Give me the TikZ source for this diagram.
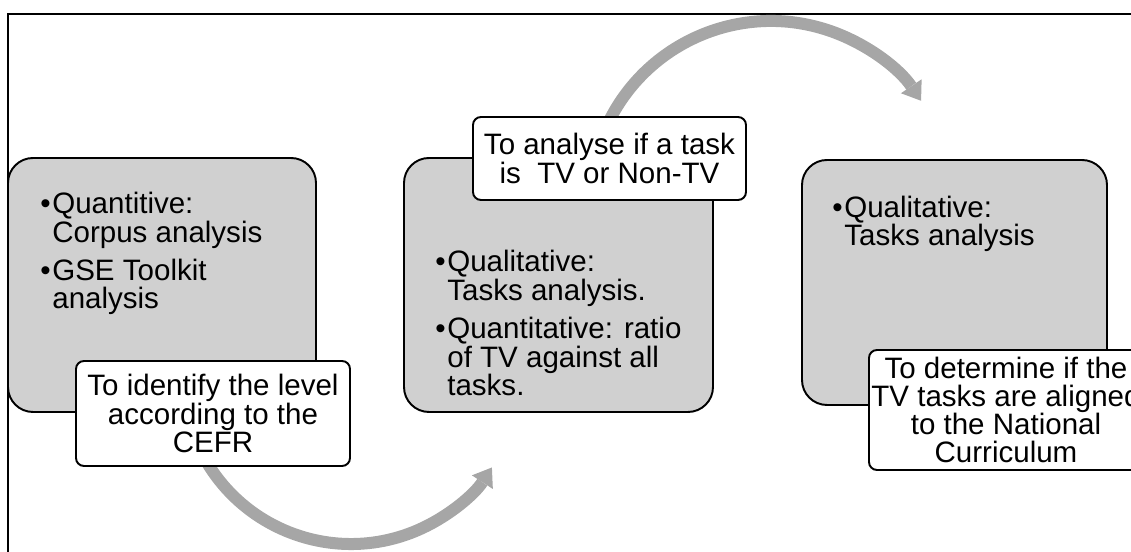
\documentclass[tikz,border=0pt]{standalone}
\usepackage{fontspec}
\setmainfont{Liberation Sans}
\usetikzlibrary{arrows.meta}

\definecolor{boxgray}{HTML}{D0D0D0}
\definecolor{arcgray}{HTML}{A6A6A6}

\newcommand{\bul}{\makebox[0.24cm][l]{\textbullet}}
\newcommand{\cont}{\hspace*{0.24cm}}

\begin{document}
\begin{tikzpicture}[
		font=\fontsize{16.8}{16.44}\selectfont,
		box/.style={draw, line width=1.1pt, fill=boxgray, rounded corners=0.5cm, inner sep=0pt},
		aim/.style={draw, line width=1.1pt, fill=white, rounded corners=0.16cm, align=center, inner sep=0pt},
		pts/.style={align=left, inner sep=0pt, anchor=base west},
		flow/.style={draw=arcgray, line width=0.24cm, -{Triangle[width=0.5cm, length=0.35cm, line width=0pt]}}
	]
		\useasboundingbox (0,0) rectangle (22.62,11.04);
		\clip (0,0) rectangle (22.62,11.04);
		\draw[line width=0.85pt] (0.16,-1) rectangle (24,10.76);

		% curved arrows, starting under the labels
		\coordinate (S1) at ({7.02+3.36*cos(205)},{3.52+3.36*sin(205)});
		\coordinate (S2) at ({15.42+3.62*cos(160)},{7.0+3.62*sin(160)});
		\draw[flow] (S1) arc[start angle=205, end angle=327, radius=3.36];
		\draw[flow] (S2) arc[start angle=160, end angle=34, radius=3.62];

		% the three steps
		\node[box, minimum width=6.16cm, minimum height=5.08cm] (B1) at (3.24,5.34) {};
		\node[box, minimum width=6.18cm, minimum height=5.08cm] (B2) at (11.17,5.34) {};
		\node[box, minimum width=6.1cm, minimum height=4.9cm] (B3) at (19.09,5.39) {};

		% anchored at the baseline of the last line
		\node[pts] (P1) at (0.8,4.86) {\bul Quantitive:\\\cont Corpus analysis\\[5pt]\bul GSE Toolkit\\\cont analysis};
		\node[pts] (P2) at (8.7,3.12) {\bul Qualitative:\\\cont Tasks analysis.\\[5pt]\bul Quantitative: ratio\\\cont of TV against all\\\cont tasks.};
		\node[pts] (P3) at (16.64,6.12) {\bul Qualitative:\\\cont Tasks analysis};

		% aims
		\node[aim, minimum width=5.48cm, minimum height=2.1cm] (L1) at (4.26,2.77) {To identify the level\\according to the\\CEFR};
		\node[aim, minimum width=5.46cm, minimum height=1.66cm] (L2) at (12.19,7.87) {To analyse if a task\\is~ TV or Non-TV};
		\node[aim, minimum width=5.48cm, minimum height=2.4cm, font=\fontsize{16.8}{15.8}\selectfont] (L3) at (20.12,2.84) {To determine if the\\TV tasks are aligned\\to the National\\Curriculum};
	\end{tikzpicture}
\end{document}
